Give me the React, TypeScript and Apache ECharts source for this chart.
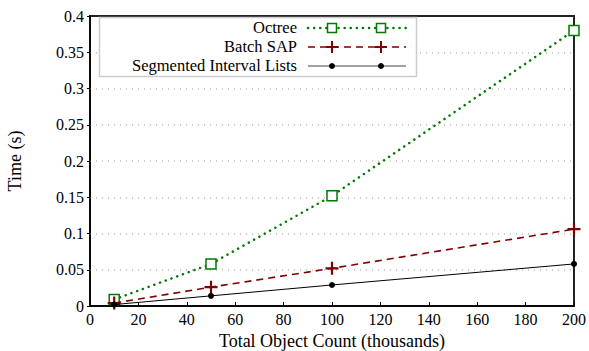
import React, { useEffect, useRef } from "react";
import * as echarts from "echarts";

const xValues = [10, 50, 100, 200];
const octree = [0.009, 0.058, 0.152, 0.38];
const batchSap = [0.004, 0.026, 0.052, 0.106];
const segmented = [0.002, 0.014, 0.029, 0.058];
const seriesNames = ["Octree", "Batch SAP", "Segmented Interval Lists"];

const FONT = "Liberation Serif";
const GREEN = "#007a00";
const RED = "#7f0000";
const BLACK = "#000000";
const PLUS = "path://M5,0h2v12h-2zM0,5h12v2h-12z";

export default function App() {
  const ref = useRef<HTMLDivElement>(null);
  useEffect(() => {
    if (!ref.current) return;
    const chart = echarts.init(ref.current, null, { renderer: "svg" });
    const pairs = (ys: number[]) => xValues.map((x, i) => [x, ys[i]]);

    const lx0 = 308, lx1 = 406, m1 = 332, m2 = 381, tx = 297;
    const rows = [28, 47, 66];
    const legend: any[] = [
      {
        type: "rect",
        shape: { x: 99.5, y: 17.5, width: 317, height: 59 },
        style: { fill: "#fff", stroke: "#cccccc", lineWidth: 1.5 },
        z: 100,
      },
    ];
    seriesNames.forEach((n, i) => {
      legend.push({
        type: "text",
        x: tx,
        y: rows[i] - 0.5,
        style: {
          text: n, fontFamily: FONT, fontSize: 16.5,
          fill: "#000", align: "right", verticalAlign: "middle",
        },
        z: 101,
      });
    });
    legend.push({
      type: "line", shape: { x1: lx0, y1: rows[0], x2: lx1, y2: rows[0] },
      style: { stroke: GREEN, lineWidth: 2.5, lineDash: [0.1, 6], lineCap: "round" }, z: 101,
    });
    legend.push({
      type: "line", shape: { x1: lx0, y1: rows[1], x2: lx1, y2: rows[1] },
      style: { stroke: RED, lineWidth: 1.6, lineDash: [7, 5] }, z: 101,
    });
    legend.push({
      type: "line", shape: { x1: lx0, y1: rows[2], x2: lx1, y2: rows[2] },
      style: { stroke: "#444", lineWidth: 1 }, z: 101,
    });
    [m1, m2].forEach((m) => {
      legend.push({
        type: "rect", shape: { x: m - 4.5, y: rows[0] - 4.5, width: 9, height: 9 },
        style: { fill: "#fff", stroke: GREEN, lineWidth: 1.5 }, z: 102,
      });
      legend.push({
        type: "rect", shape: { x: m - 6, y: rows[1] - 1, width: 12, height: 2 },
        style: { fill: RED }, z: 102,
      });
      legend.push({
        type: "rect", shape: { x: m - 1, y: rows[1] - 6, width: 2, height: 12 },
        style: { fill: RED }, z: 102,
      });
      legend.push({
        type: "circle", shape: { cx: m, cy: rows[2], r: 3 },
        style: { fill: BLACK }, z: 102,
      });
    });

    chart.setOption({
      animation: false,
      backgroundColor: "#fff",
      textStyle: { fontFamily: FONT },
      grid: {
        left: 90, right: 15, top: 16, bottom: 45,
        outerBoundsMode: "none", containLabel: false,
        show: true, borderColor: "#222", borderWidth: 2, backgroundColor: "transparent",
      },
      xAxis: {
        type: "value", min: 0, max: 200, interval: 20,
        name: "Total Object Count (thousands)", nameLocation: "middle", nameGap: 22,
        nameTextStyle: { fontFamily: FONT, fontSize: 18, color: "#000" },
        axisLine: { lineStyle: { color: "#000", width: 1.5 } },
        axisTick: { inside: true, length: 4, lineStyle: { color: "#000" } },
        axisLabel: { fontFamily: FONT, fontSize: 16, color: "#000", margin: 5 },
        splitLine: { show: false },
      },
      yAxis: {
        type: "value", min: 0, max: 0.4, interval: 0.05,
        name: "Time (s)", nameLocation: "middle", nameGap: 66,
        nameTextStyle: { fontFamily: FONT, fontSize: 18, color: "#000" },
        axisLine: { lineStyle: { color: "#000", width: 1.5 } },
        axisTick: { inside: false, length: 3, lineStyle: { color: "#000" } },
        axisLabel: { fontFamily: FONT, fontSize: 16, color: "#000", margin: 6 },
        splitLine: {
          show: true, showMinLine: false, showMaxLine: false,
          lineStyle: { color: "#bbbbbb", width: 1.5, type: [1, 5] },
        },
      },
      series: [
        {
          name: seriesNames[0], type: "line", data: pairs(octree),
          symbol: "rect", symbolSize: 10, showSymbol: true,
          lineStyle: { color: GREEN, width: 2.5, type: [0.1, 6], cap: "round" },
          itemStyle: { color: "#fff", borderColor: GREEN, borderWidth: 1.5 },
          z: 3,
        },
        {
          name: seriesNames[1], type: "line", data: pairs(batchSap),
          symbol: PLUS, symbolSize: 13,
          lineStyle: { color: RED, width: 1.6, type: [7, 5] },
          itemStyle: { color: RED },
          z: 4,
        },
        {
          name: seriesNames[2], type: "line", data: pairs(segmented),
          symbol: "circle", symbolSize: 6,
          lineStyle: { color: BLACK, width: 1 },
          itemStyle: { color: BLACK },
          z: 5,
        },
      ],
      graphic: legend,
    });
    return () => chart.dispose();
  }, []);
  return (
    <div
      ref={ref}
      style={{ position: "fixed", left: 0, top: 0, width: 589, height: 351 }}
    />
  );
}
